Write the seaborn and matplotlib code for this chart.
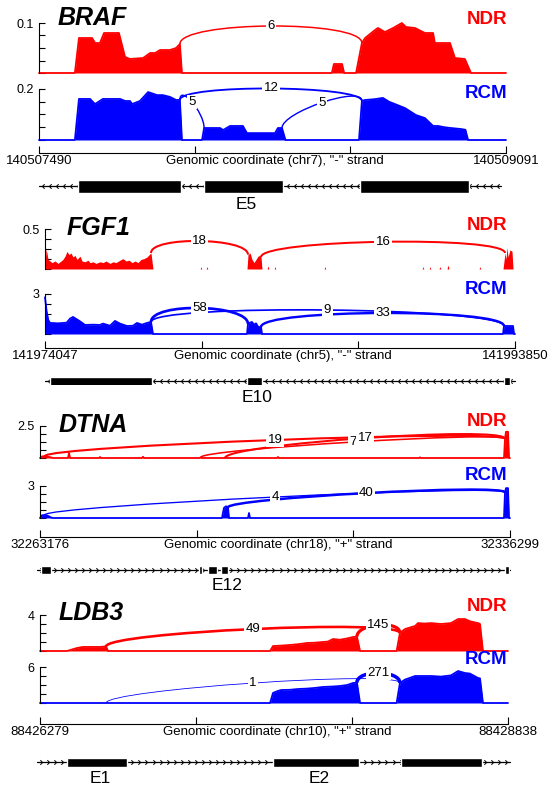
import numpy as np
import matplotlib
matplotlib.use("Agg")
import matplotlib.pyplot as plt
import seaborn as sns
from matplotlib.path import Path
from matplotlib.patches import PathPatch

# ---------------- data (x positions are bp offsets from region start) ----------------
# BRAF, chr7, "-" strand
braf_region = (140507490, 140509091)
braf_exons = [(134, 487), (566, 836), (1100, 1474)]
braf_exon_names = ["", "E5", ""]
braf_line = (0, 1584)
braf_ndr_max = 0.1
braf_ndr_x = [0, 123, 137, 182, 192, 209, 223, 274, 295, 312, 357, 381, 398, 415, 449, 470, 483, 490,
              1004, 1011, 1039, 1046, 1087, 1107, 1118, 1152, 1162, 1186, 1214, 1244, 1258, 1289,
              1323, 1351, 1357, 1409, 1426, 1460, 1481, 1601]
braf_ndr_y = [0, 0, .070, .070, .060, .060, .080, .080, .032, .028, .030, .040, .040, .046, .046, .050, .058, 0,
              0, .018, .018, 0, 0, .060, .070, .086, .090, .082, .090, .100, .092, .090,
              .080, .080, .060, .060, .030, .028, 0, 0]
braf_rcm_max = 0.2
braf_rcm_x = [0, 123, 137, 175, 192, 219, 278, 295, 312, 319, 346, 374, 405, 425, 449, 470, 483, 490,
              559, 566, 621, 631, 655, 699, 713, 809, 819, 833, 845,
              1097, 1107, 1118, 1150, 1179, 1200, 1220, 1255, 1292, 1323, 1351, 1368, 1390, 1412, 1447,
              1462, 1471, 1601]
braf_rcm_y = [0, 0, .161, .161, .141, .161, .161, .153, .153, .141, .153, .188, .176, .176, .169, .157, .157, 0,
              0, .047, .047, .039, .055, .055, .027, .027, .047, .047, 0,
              0, .153, .157, .160, .165, .150, .141, .125, .098, .086, .055, .055, .050, .047, .043,
              .040, 0, 0]
braf_ndr_jx_start = [483]
braf_ndr_jx_end = [1107]
braf_ndr_jx_count = [6]
braf_ndr_jx_top = [0.094]
braf_rcm_jx_start = [483, 483, 833]
braf_rcm_jx_end = [1107, 566, 1107]
braf_rcm_jx_count = [12, 5, 5]
braf_rcm_jx_top = [0.202, 0.149, 0.147]

# FGF1, chr5, "-" strand
fgf1_region = (141974047, 141993850)
fgf1_exons = [(211, 4508), (8511, 9143), (19340, 19593)]
fgf1_exon_names = ["", "E10", ""]
fgf1_line = (0, 19803)
fgf1_ndr_max = 0.5
fgf1_ndr_x = [0, 42, 84, 126, 211, 295, 421, 548, 632, 758, 843, 927, 1011, 1095, 1180, 1264, 1348, 1475,
              1559, 1685, 1812, 1896, 2022, 2149, 2317, 2444, 2570, 2739, 2865, 2991, 3160, 3286, 3413,
              3539, 3666, 3792, 3918, 4045, 4171, 4297, 4424, 4466, 4550,
              6540, 6573, 6606, 6790, 6825, 6860,
              8511, 8553, 8638, 8722, 8806, 8891, 8975, 9059, 9101, 9143,
              9360, 9395, 9430, 9655, 9690, 9725, 11760, 11797, 11830, 15890, 15926, 15960,
              16190, 16221, 16255, 16600, 16642, 16680, 16940, 16979, 17020, 18290, 18327, 18360,
              19298, 19382, 19424, 19467, 19509, 19593, 19677, 19720, 19803]
fgf1_ndr_y = [0, .25, .20, .12, .10, .08, .10, .07, .09, .12, .16, .22, .18, .20, .15, .17, .12, .16,
              .10, .09, .11, .08, .09, .07, .09, .08, .10, .07, .09, .08, .11, .13, .10,
              .11, .08, .10, .08, .12, .13, .15, .19, .20, 0,
              0, .03, 0, 0, .03, 0,
              0, .18, .20, .12, .08, .12, .16, .17, .15, 0,
              0, .04, 0, 0, .03, 0, 0, .03, 0, 0, .03, 0,
              0, .03, 0, 0, .03, 0, 0, .05, 0, 0, .03, 0,
              0, .20, .12, .27, .15, .24, .22, 0, 0]
fgf1_rcm_max = 3
fgf1_rcm_x = [0, 72, 139, 211, 548, 914, 1053, 1180, 1475, 1685, 2022, 2317, 2444, 2739, 2949, 3160,
              3455, 3708, 3876, 4087, 4297, 4466, 4550,
              8511, 8553, 8638, 8722, 8806, 8891, 8975, 9059, 9101, 9143,
              19298, 19340, 19720, 19762, 19803]
fgf1_rcm_y = [2.75, 1.65, 1.05, .83, .80, .85, 1.15, 1.28, .95, .68, .70, .68, .78, .62, .98, .78,
              .60, .62, .83, .70, .83, .90, 0,
              0, .75, .85, .90, .70, .80, .55, .50, .53, 0,
              0, .60, .60, 0, 0]
fgf1_ndr_jx_start = [4466, 9101]
fgf1_ndr_jx_end = [8553, 19382]
fgf1_ndr_jx_count = [18, 16]
fgf1_ndr_jx_top = [0.35, 0.34]
fgf1_rcm_jx_start = [4466, 4466, 9101]
fgf1_rcm_jx_end = [8553, 19340, 19340]
fgf1_rcm_jx_count = [58, 9, 33]
fgf1_rcm_jx_top = [1.95, 1.80, 1.575]

# DTNA, chr18, "+" strand
dtna_region = (32263176, 32336299)
dtna_exons = [(156, 1711), (24737, 25204), (26137, 27538), (28160, 29249), (72345, 72967)]
dtna_exon_names = ["", "", "", "E12", ""]
dtna_line = (-467, 73123)
dtna_ndr_max = 2.5
dtna_ndr_x = [0, 311, 778, 1245, 1711, 2023, 4356, 4512, 4667, 9180, 9335, 9490, 15870, 16025, 16180,
              24890, 25048, 25200, 36870, 37028, 37180, 58960, 59120, 59280,
              72189, 72345, 72500, 72811, 72967, 73123]
dtna_ndr_y = [0, .12, .15, .10, .05, 0, 0, .40, 0, 0, .08, 0, 0, .10, 0,
              0, .06, 0, 0, .08, 0, 0, .05, 0,
              0, 1.5, 2.05, 2.05, 0, 0]
dtna_rcm_max = 3
dtna_rcm_x = [0, 311, 778, 1245, 1711, 2023, 28316, 28471, 28627, 28938, 29249, 29404,
              32360, 32516, 32670, 72189, 72345, 72500, 72811, 72967, 73123]
dtna_rcm_y = [0, .25, .30, .20, .05, 0, 0, .5, .95, 1.1, 1.0, 0,
              0, .47, 0, 0, 2.4, 2.8, 2.8, 0, 0]
dtna_ndr_jx_start = [778, 25048, 28782]
dtna_ndr_jx_end = [72345, 72345, 72345]
dtna_ndr_jx_count = [19, 7, 17]
dtna_ndr_jx_top = [1.41, 1.25, 1.56]
dtna_rcm_jx_start = [778, 29249]
dtna_rcm_jx_end = [72345, 72345]
dtna_rcm_jx_count = [4, 40]
dtna_rcm_jx_top = [1.97, 2.34]

# LDB3, chr10, "+" strand
ldb3_region = (88426279, 88428838)
ldb3_exons = [(148, 476), (1274, 1744), (1974, 2417)]
ldb3_exon_names = ["E1", "E2", ""]
ldb3_line = (-16, 2570)
ldb3_ndr_max = 4
ldb3_ndr_x = [0, 148, 180, 202, 235, 328, 355, 361, 372,
              1258, 1274, 1320, 1367, 1410, 1460, 1500, 1547, 1575, 1602, 1640, 1680, 1711, 1733, 1750,
              1950, 1968, 1996, 2051, 2067, 2100, 2138, 2193, 2247, 2286, 2324, 2351, 2395, 2406, 2422, 2559]
ldb3_ndr_y = [0, 0, .2, .33, .45, .45, .5, .5, 0,
              0, .55, .6, .67, .75, .89, .92, 1.0, 1.05, 1.33, 1.25, 1.4, 1.55, 1.6, 0,
              0, 2.0, 2.44, 2.78, 3.1, 3.05, 3.1, 3.0, 3.1, 3.55, 3.55, 3.3, 3.1, 3.0, 0, 0]
ldb3_rcm_max = 6
ldb3_rcm_x = [0, 1258, 1274, 1300, 1320, 1367, 1410, 1460, 1500, 1547, 1602, 1640, 1680, 1711, 1733, 1750,
              1950, 1968, 1996, 2051, 2138, 2193, 2247, 2286, 2324, 2351, 2395, 2406, 2422, 2559]
ldb3_rcm_y = [0, 0, 1.67, 2.0, 2.17, 2.2, 2.33, 2.4, 2.5, 2.67, 2.75, 2.83, 3.0, 3.33, 3.4, 0,
              0, 3.33, 3.9, 4.5, 4.5, 4.4, 4.6, 5.33, 5.0, 4.9, 4.17, 4.1, 0, 0]
ldb3_ndr_jx_start = [361, 1733]
ldb3_ndr_jx_end = [1968, 1968]
ldb3_ndr_jx_count = [49, 145]
ldb3_ndr_jx_top = [2.44, 2.89]
ldb3_rcm_jx_start = [361, 1733]
ldb3_rcm_jx_end = [1968, 1968]
ldb3_rcm_jx_count = [1, 271]
ldb3_rcm_jx_top = [3.33, 5.0]

genes = [
    dict(name="BRAF", chrom="chr7", strand="-", region=braf_region, exons=braf_exons,
         exon_names=braf_exon_names, line=braf_line,
         ndr=(braf_ndr_x, braf_ndr_y, braf_ndr_max,
              (braf_ndr_jx_start, braf_ndr_jx_end, braf_ndr_jx_count, braf_ndr_jx_top)),
         rcm=(braf_rcm_x, braf_rcm_y, braf_rcm_max,
              (braf_rcm_jx_start, braf_rcm_jx_end, braf_rcm_jx_count, braf_rcm_jx_top))),
    dict(name="FGF1", chrom="chr5", strand="-", region=fgf1_region, exons=fgf1_exons,
         exon_names=fgf1_exon_names, line=fgf1_line,
         ndr=(fgf1_ndr_x, fgf1_ndr_y, fgf1_ndr_max,
              (fgf1_ndr_jx_start, fgf1_ndr_jx_end, fgf1_ndr_jx_count, fgf1_ndr_jx_top)),
         rcm=(fgf1_rcm_x, fgf1_rcm_y, fgf1_rcm_max,
              (fgf1_rcm_jx_start, fgf1_rcm_jx_end, fgf1_rcm_jx_count, fgf1_rcm_jx_top))),
    dict(name="DTNA", chrom="chr18", strand="+", region=dtna_region, exons=dtna_exons,
         exon_names=dtna_exon_names, line=dtna_line,
         ndr=(dtna_ndr_x, dtna_ndr_y, dtna_ndr_max,
              (dtna_ndr_jx_start, dtna_ndr_jx_end, dtna_ndr_jx_count, dtna_ndr_jx_top)),
         rcm=(dtna_rcm_x, dtna_rcm_y, dtna_rcm_max,
              (dtna_rcm_jx_start, dtna_rcm_jx_end, dtna_rcm_jx_count, dtna_rcm_jx_top))),
    dict(name="LDB3", chrom="chr10", strand="+", region=ldb3_region, exons=ldb3_exons,
         exon_names=ldb3_exon_names, line=ldb3_line,
         ndr=(ldb3_ndr_x, ldb3_ndr_y, ldb3_ndr_max,
              (ldb3_ndr_jx_start, ldb3_ndr_jx_end, ldb3_ndr_jx_count, ldb3_ndr_jx_top)),
         rcm=(ldb3_rcm_x, ldb3_rcm_y, ldb3_rcm_max,
              (ldb3_rcm_jx_start, ldb3_rcm_jx_end, ldb3_rcm_jx_count, ldb3_rcm_jx_top))),
]

# ---------------- layout (pixels) ----------------
layout = {
    "BRAF": dict(x0=39, x1=506, ndr=(23, 73), rcm=(89, 140), axis_y=153, model_y=186, model_h=13,
                 title=(58, 18), ndr_lab=20, rcm_lab=94, ndr_outline=True),
    "FGF1": dict(x0=45, x1=515, ndr=(229, 269), rcm=(294, 334), axis_y=348, model_y=381, model_h=9,
                 title=(67, 228), ndr_lab=225, rcm_lab=289.5, ndr_outline=False),
    "DTNA": dict(x0=40, x1=510, ndr=(426, 458), rcm=(486, 518), axis_y=537, model_y=570, model_h=8,
                 title=(59, 425), ndr_lab=421.5, rcm_lab=475, ndr_outline=True),
    "LDB3": dict(x0=40, x1=508, ndr=(615, 651), rcm=(667, 703), axis_y=724, model_y=762, model_h=9,
                 title=(59, 613), ndr_lab=606.5, rcm_lab=659.5, ndr_outline=True),
}

NDR_COLOR = "#ff0000"
RCM_COLOR = "#0000ff"
W, H = 556, 788

sns.set_theme(style="ticks", rc={"axes.edgecolor": "black", "xtick.color": "black",
                                 "ytick.color": "black", "text.color": "black"})
plt.rcParams["font.family"] = ["Liberation Sans", "DejaVu Sans"]

fig = plt.figure(figsize=(W / 100, H / 100), dpi=100)


def px_axes(left, top, right, bottom):
    return fig.add_axes([left / W, 1 - bottom / H, (right - left) / W, (bottom - top) / H])


def draw_track(ax, start, end, track, color, outline):
    xs, ys, ymax, jx = track
    x = start + np.asarray(xs, float)
    y = np.asarray(ys, float)
    ax.fill_between(x, y, 0, color=color, lw=0, clip_on=False)
    if outline:
        sns.lineplot(x=x, y=y, ax=ax, color=color, lw=1.3, estimator=None, clip_on=False)
    # junction arcs (cubic bezier, sashimi style)
    for s, e, n, top in zip(*jx):
        xa, xb = start + s, start + e
        ya, yb = np.interp(xa, x, y), np.interp(xb, x, y)
        h = (top - (ya + yb) / 2) / 0.75
        path = Path([(xa, ya), (xa, ya + h), (xb, yb + h), (xb, yb)],
                    [Path.MOVETO, Path.CURVE4, Path.CURVE4, Path.CURVE4])
        ax.add_patch(PathPatch(path, fc="none", ec=color, lw=0.3 + 0.4 * np.log(n + 1),
                               clip_on=False, zorder=3))
        ax.text((xa + xb) / 2, top, str(n), ha="center", va="center", fontsize=9.5, zorder=4,
                clip_on=False, bbox=dict(boxstyle="square,pad=0.1", fc="white", ec="none"))
    ax.set_xlim(start, end)
    ax.set_ylim(0, ymax)
    ax.set_yticks(np.linspace(0, ymax, 5))
    ax.set_yticklabels([""] * 4 + [f"{ymax:g}"])
    ax.set_xticks([])
    ax.set_xlabel("")
    ax.set_ylabel("")
    sns.despine(ax=ax, bottom=True)
    ax.spines["left"].set_linewidth(0.8)
    ax.tick_params(axis="y", direction="in", length=4.3, width=0.8, labelsize=9, pad=4)
    ax.patch.set_alpha(0)


for g in genes:
    lay = layout[g["name"]]
    start, end = g["region"]
    x0, x1 = lay["x0"], lay["x1"]

    ax_ndr = px_axes(x0, lay["ndr"][0], x1, lay["ndr"][1])
    draw_track(ax_ndr, start, end, g["ndr"], NDR_COLOR, lay["ndr_outline"])
    ax_rcm = px_axes(x0, lay["rcm"][0], x1, lay["rcm"][1])
    draw_track(ax_rcm, start, end, g["rcm"], RCM_COLOR, True)

    fig.text(lay["title"][0] / W, 1 - lay["title"][1] / H, g["name"], fontsize=18,
             fontweight="bold", fontstyle="italic", ha="left", va="center")
    fig.text(507 / W, 1 - lay["ndr_lab"] / H, "NDR", color=NDR_COLOR, fontsize=13.5,
             fontweight="bold", ha="right", va="center")
    fig.text(507 / W, 1 - lay["rcm_lab"] / H, "RCM", color=RCM_COLOR, fontsize=13.5,
             fontweight="bold", ha="right", va="center")

    # genomic coordinate axis
    gax = px_axes(x0, lay["axis_y"] - 8, x1, lay["axis_y"])
    gax.set_xlim(start, end)
    gax.set_ylim(0, 1)
    span = end - start
    gax.set_xticks([start, start + span / 3, start + 2 * span / 3, end])
    gax.set_xticklabels([str(start), "", "", str(end)])
    gax.set_yticks([])
    sns.despine(ax=gax, left=True)
    gax.spines["bottom"].set_linewidth(0.8)
    gax.tick_params(axis="x", direction="in", length=5, width=0.8, labelsize=9.5, pad=1.5)
    gax.annotate(f'Genomic coordinate ({g["chrom"]}), "{g["strand"]}" strand', xy=(0.5, 0),
                 xycoords="axes fraction", xytext=(2, -1.5), textcoords="offset points",
                 ha="center", va="top", fontsize=9.5)
    gax.patch.set_alpha(0)

    # gene model
    mh = lay["model_h"]
    max_ = px_axes(x0, lay["model_y"] - mh / 2, x1, lay["model_y"] + mh / 2)
    max_.set_xlim(start, end)
    max_.set_ylim(-0.5, 0.5)
    max_.axis("off")
    l0, l1 = g["line"]
    max_.plot([start + l0, start + l1], [0, 0], color="black", lw=0.9, clip_on=False, zorder=1)
    line_px = (l1 - l0) / span * (x1 - x0)
    n_chev = int(line_px / 7)
    step = (l1 - l0) / n_chev
    chev_pos = start + l0 + step * (np.arange(n_chev) + 0.5)
    if g["strand"] == "-":
        chev = Path([(0.5, 1), (-0.5, 0), (0.5, -1)], [Path.MOVETO, Path.LINETO, Path.LINETO])
    else:
        chev = Path([(-0.5, 1), (0.5, 0), (-0.5, -1)], [Path.MOVETO, Path.LINETO, Path.LINETO])
    max_.plot(chev_pos, np.zeros(n_chev), ls="none", marker=chev, ms=3.3, mfc="none",
              mec="black", mew=0.7, clip_on=False, zorder=2)
    max_.broken_barh([(start + s, e - s) for s, e in g["exons"]], (-0.5, 1.0),
                     facecolors="black", zorder=3)
    for (s, e), nm in zip(g["exons"], g["exon_names"]):
        if nm:
            max_.annotate(nm, xy=(start + (s + e) / 2, -0.5), xytext=(2, -3),
                          textcoords="offset points", ha="center", va="top", fontsize=12.5,
                          annotation_clip=False)

fig.savefig("out.png", dpi=100)
